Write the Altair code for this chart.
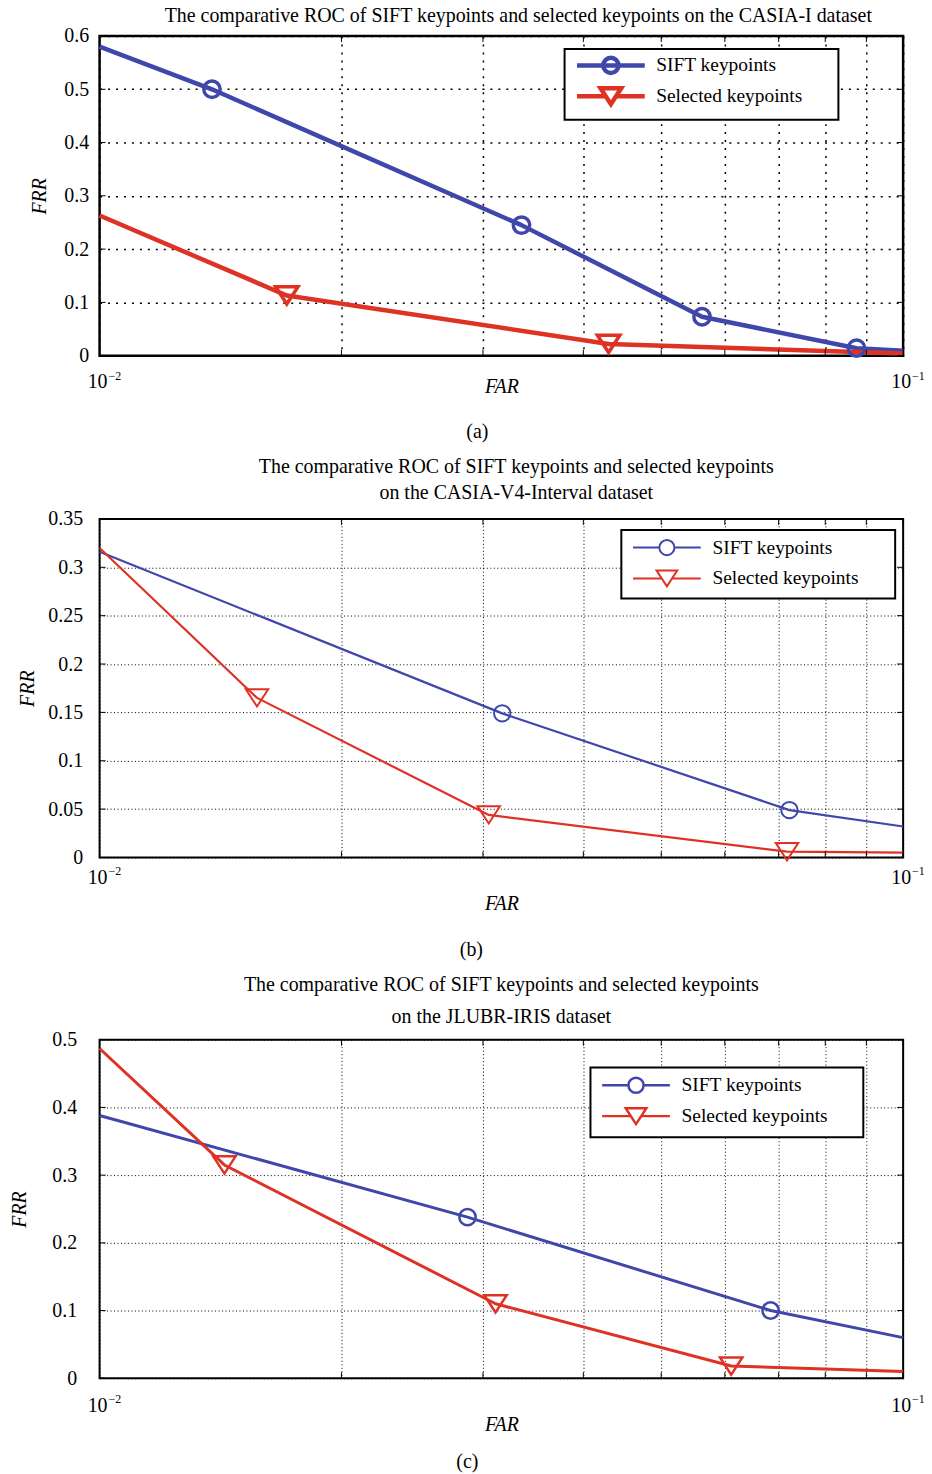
import altair as alt
import pandas as pd

BLUE = "#3F48AA"
RED = "#DE3224"
FONT = "Liberation Serif"
SERIES = ["SIFT keypoints", "Selected keypoints"]

# ---------------- data ----------------
# panel (a) CASIA-I
a_sift_far = [0.01, 0.0138, 0.0335, 0.0562, 0.0875, 0.1]
a_sift_frr = [0.58, 0.50, 0.245, 0.073, 0.014, 0.009]
a_sift_mrk = [False, True, True, True, True, False]
a_sel_far = [0.01, 0.0171, 0.0430, 0.1]
a_sel_frr = [0.263, 0.113, 0.022, 0.004]
a_sel_mrk = [False, True, True, False]

# panel (b) CASIA-V4-Interval
b_sift_far = [0.01, 0.0317, 0.0722, 0.1]
b_sift_frr = [0.316, 0.149, 0.049, 0.032]
b_sift_mrk = [False, True, True, False]
b_sel_far = [0.01, 0.0157, 0.0305, 0.0717, 0.1]
b_sel_frr = [0.320, 0.165, 0.044, 0.006, 0.005]
b_sel_mrk = [False, True, True, True, False]

# panel (c) JLUBR-IRIS
c_sift_far = [0.01, 0.0287, 0.0684, 0.1]
c_sift_frr = [0.388, 0.238, 0.100, 0.060]
c_sift_mrk = [False, True, True, False]
c_sel_far = [0.01, 0.0143, 0.0311, 0.0611, 0.1]
c_sel_frr = [0.487, 0.315, 0.110, 0.018, 0.010]
c_sel_mrk = [False, True, True, True, False]

x_grid = [0.01, 0.02, 0.03, 0.04, 0.05, 0.06, 0.07, 0.08, 0.09, 0.1]
x_label_vals = [0.01, 0.1]
x_label_base = ["10", "10"]
x_label_exp = ["\u22122", "\u22121"]

a_yticks = [0, 0.1, 0.2, 0.3, 0.4, 0.5, 0.6]
b_yticks = [0, 0.05, 0.1, 0.15, 0.2, 0.25, 0.3, 0.35]
c_yticks = [0, 0.1, 0.2, 0.3, 0.4, 0.5]

title_top = "The comparative ROC of SIFT keypoints and selected keypoints"
a_title = title_top + " on the CASIA-I dataset"
b_title = [title_top, "on the CASIA-V4-Interval dataset"]
c_title = [title_top, "on the JLUBR-IRIS dataset"]

# marker shapes (unit paths)
CIRC = "M0.95,0A0.95,0.95,0,1,1,-0.95,0A0.95,0.95,0,1,1,0.95,0Z"
TRI = "M-1.3,-1L1.3,-1L0,1Z"
LEG_CIRC_THROUGH = "M-4.25,0H4.25" + CIRC
LEG_CIRC = "M-4.25,0H-0.95M0.95,0H4.25" + CIRC
LEG_TRI = "M-4.25,0H-0.65M0.65,0H4.25" + TRI

FS = 20


def make_df(sf, sr, sm, tf, tr, tm):
    rows = []
    for f, r, m in zip(sf, sr, sm):
        rows.append({"far": f, "frr": r, "mark": m, "series": SERIES[0]})
    for f, r, m in zip(tf, tr, tm):
        rows.append({"far": f, "frr": r, "mark": m, "series": SERIES[1]})
    return pd.DataFrame(rows)


def panel(df, yticks, ymax, W, H, title, title_lh, title_dx, title_off,
          lw, msw, grid_dash, grid_w, legx, legy, leg_circ, leg_pad, leg_rp, leg_lab, leg_tp,
          lab_pad, ytitle_pad, xtitle_pad, xlab_dy, frame_w):
    xscale = alt.Scale(type="log", domain=[0.01, 0.1], nice=False)
    yscale = alt.Scale(domain=[0, ymax], nice=False, zero=True)

    xaxis = alt.Axis(values=x_grid, grid=True, gridDash=grid_dash, gridColor="black",
                     gridWidth=grid_w, gridOpacity=1, labels=False, ticks=False, domain=False,
                     title="FAR", titleFont=FONT, titleFontSize=FS, titleFontStyle="italic",
                     titleFontWeight="normal", titleColor="black", titlePadding=xtitle_pad)
    yaxis = alt.Axis(values=yticks, format="~g", grid=True, gridDash=grid_dash,
                     gridColor="black", gridWidth=grid_w, gridOpacity=1, ticks=False,
                     domain=False, labelFont=FONT, labelFontSize=FS, labelColor="black",
                     labelPadding=lab_pad, title="FRR", titleFont=FONT, titleFontSize=FS,
                     titleFontStyle="italic", titleFontWeight="normal", titleColor="black",
                     titlePadding=ytitle_pad)
    X = alt.X("far:Q", scale=xscale, axis=xaxis, title="FAR")
    Y = alt.Y("frr:Q", scale=yscale, axis=yaxis, title="FRR")

    def series_line(name, color):
        return alt.Chart(df).transform_filter(f"datum.series == '{name}'").mark_line(
            strokeWidth=lw, strokeJoin="round", strokeCap="butt", color=color).encode(x=X, y=Y)

    line_s = series_line(SERIES[0], BLUE)
    line_t = series_line(SERIES[1], RED)

    circles = alt.Chart(df).transform_filter(
        "datum.mark && datum.series == 'SIFT keypoints'"
    ).mark_point(shape=CIRC, size=300, filled=False, strokeWidth=msw, color=BLUE, opacity=1).encode(
        x=X, y=Y)
    tris = alt.Chart(df).transform_filter(
        "datum.mark && datum.series == 'Selected keypoints'"
    ).mark_point(shape=TRI, size=300, filled=False, strokeWidth=msw, color=RED, opacity=1).encode(
        x=X, y=Y)

    leg = alt.Legend(title=".", titleOrient="right", titlePadding=leg_tp, titleColor="white",
                     titleFontSize=FS, titleFont=FONT,
                     orient="none", legendX=legx, legendY=legy, direction="vertical",
                     strokeColor="black", fillColor="white", padding=leg_pad, symbolSize=256,
                     symbolStrokeWidth=max(msw, lw) if lw > 3.5 else msw,
                     symbolOffset=36 - leg_pad, labelOffset=leg_lab - leg_pad, rowPadding=leg_rp,
                     labelFont=FONT, labelFontSize=19.5,
                     labelColor="black", labelLimit=400, symbolOpacity=1)
    legend_layer = alt.Chart(df).transform_filter("false").mark_point(filled=False, strokeWidth=lw).encode(
        color=alt.Color("series:N", scale=alt.Scale(domain=SERIES, range=[BLUE, RED]), legend=leg),
        shape=alt.Shape("series:N", scale=alt.Scale(domain=SERIES, range=[leg_circ, LEG_TRI]), legend=leg),
    )

    xt_df = pd.DataFrame({"far": x_grid})
    yt_df = pd.DataFrame({"frr": yticks})
    xt_top = alt.Chart(xt_df).mark_rule(color="black", strokeWidth=1).encode(
        x=X, y=alt.value(0), y2=alt.value(6))
    xt_bot = alt.Chart(xt_df).mark_rule(color="black", strokeWidth=1).encode(
        x=X, y=alt.value(H), y2=alt.value(H - 6))
    yt_l = alt.Chart(yt_df).mark_rule(color="black", strokeWidth=1).encode(
        y=Y, x=alt.value(0), x2=alt.value(6))
    yt_r = alt.Chart(yt_df).mark_rule(color="black", strokeWidth=1).encode(
        y=Y, x=alt.value(W), x2=alt.value(W - 6))

    xl_df = pd.DataFrame({"far": x_label_vals, "base": x_label_base, "exp": x_label_exp})
    xl_base = alt.Chart(xl_df).mark_text(align="right", baseline="middle", dx=8, font=FONT,
                                         fontSize=FS, color="black").encode(
        x=X, y=alt.value(H + xlab_dy), text="base:N")
    xl_exp = alt.Chart(xl_df).mark_text(align="left", baseline="middle", dx=9, font=FONT,
                                        fontSize=12, color="black").encode(
        x=X, y=alt.value(H + xlab_dy - 7), text="exp:N")

    chart = alt.layer(line_s, line_t, xt_top, xt_bot, yt_l, yt_r, circles, tris, xl_base, xl_exp,
                      legend_layer).properties(
        width=W, height=H,
        title=alt.TitleParams(title, font=FONT, fontSize=FS, fontWeight="normal", color="black",
                              anchor="middle", frame="group", dx=title_dx, offset=title_off,
                              lineHeight=title_lh),
        view=alt.ViewBackground(stroke="black", strokeWidth=frame_w, fill="white"),
    )
    return chart


df_a = make_df(a_sift_far, a_sift_frr, a_sift_mrk, a_sel_far, a_sel_frr, a_sel_mrk)
df_b = make_df(b_sift_far, b_sift_frr, b_sift_mrk, b_sel_far, b_sel_frr, b_sel_mrk)
df_c = make_df(c_sift_far, c_sift_frr, c_sift_mrk, c_sel_far, c_sel_frr, c_sel_mrk)

pa = panel(df_a, a_yticks, 0.6, 807, 321, a_title, 22, 17, 0,
           4.5, 3.5, [2, 6], 1.5, 467, 13, LEG_CIRC_THROUGH, 6, -4, 41, 25, 11, 14, 21, 27, 2.5)
pb = panel(df_b, b_yticks, 0.35, 807, 340, b_title, 26, 15, 6,
           2.2, 2, [1, 2.5], 1, 524, 11, LEG_CIRC, 8, 6, 44, 24, 17, 10, 36, 21, 2)
pc = panel(df_c, c_yticks, 0.5, 807, 340, c_title, 32, 0, 3,
           3, 2.5, [1, 2.5], 1, 493, 28, LEG_CIRC, 8, 4, 44, 23, 23, 22, 36, 28, 2)


def wrap(ch, cap, off):
    return alt.vconcat(ch, title=alt.TitleParams(cap, orient="bottom", font=FONT, fontSize=FS,
                                                 fontWeight="normal", color="black", anchor="middle",
                                                 offset=off))


chart = alt.vconcat(wrap(pa, "(a)", 24), wrap(pb, "(b)", 26), wrap(pc, "(c)", 17), spacing=14).resolve_scale(
    color="independent", shape="independent"
).resolve_legend(color="independent", shape="independent").properties(
    padding={"left": 9, "top": 1, "right": 5, "bottom": 0},
    background="white",
).configure_legend(strokeWidth=2).configure_concat(spacing=14)

chart.save("out.html", embed_options={"renderer": "svg", "actions": False})
